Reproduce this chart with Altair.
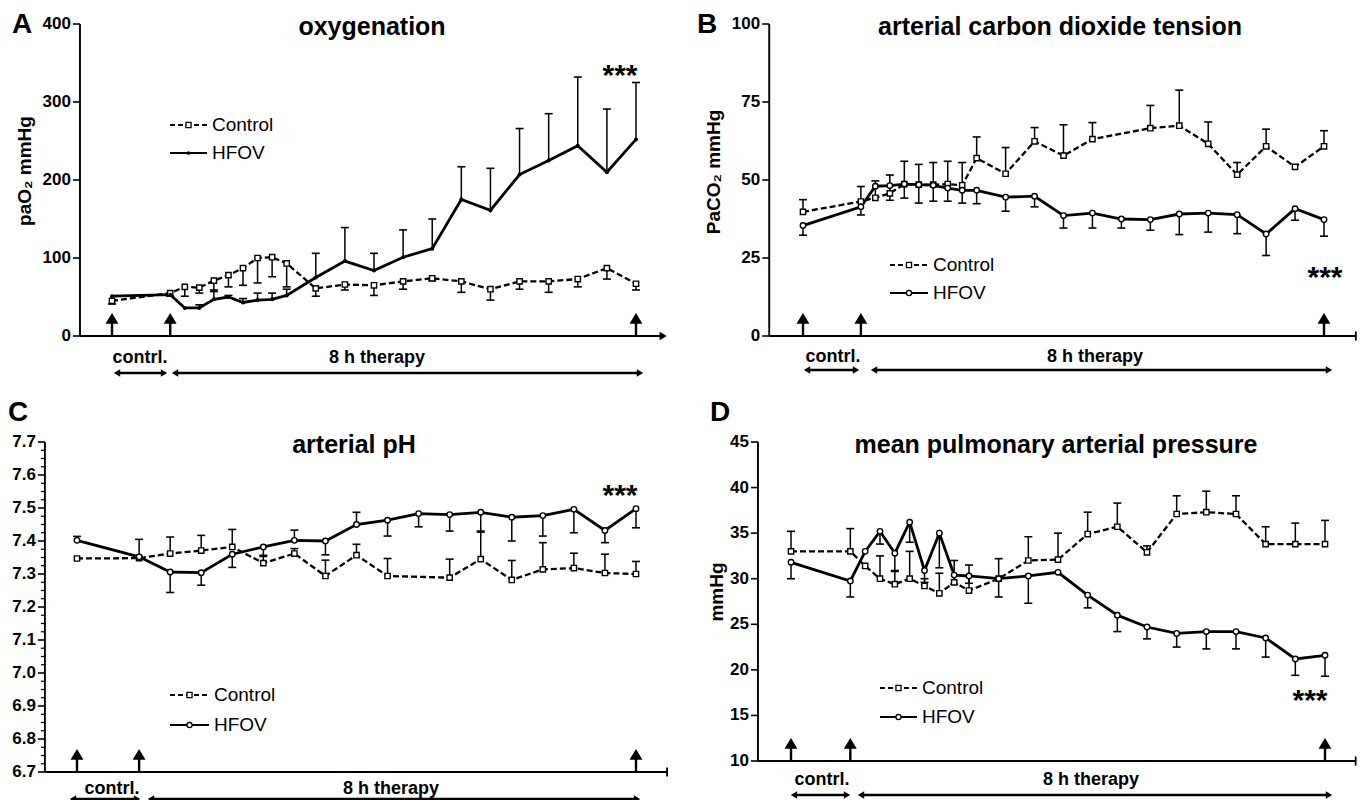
import altair as alt
import pandas as pd

FONT = "Liberation Sans"

# ---------------- data ----------------
T15 = [-60, 0, 15, 30, 45, 60, 75, 90, 105, 120, 150, 180, 210, 240, 270, 300, 330, 360, 390, 420, 450, 480]
T30 = [-60, 0, 30, 60, 90, 120, 150, 180, 210, 240, 270, 300, 330, 360, 390, 420, 450, 480]
MARK_TIMES = [-60, 0, 480]

A_CTRL = [45, 55, 63, 62, 71, 78, 87, 100, 101, 93, 61, 66, 65, 70, 74, 70, 60, 70, 70, 73, 87, 67]
A_CTRL_ERR = [-4, -4, -12, -7, -14, -15, -22, -32, -25, -30, -10, -7, -13, -10, -3, -14, -14, -10, -14, -10, -14, -8]
A_HFOV = [51, 53, 36, 36, 47, 50, 43, 46, 47, 52, 75, 96, 84, 101, 112, 175, 161, 207, 225, 244, 210, 252]
A_HFOV_ERR = [0, 0, 0, 4, 12, 2, 5, 9, 8, 8, 31, 43, 22, 35, 38, 42, 54, 59, 60, 88, 81, 73]
A_TICKS = [0, 100, 200, 300, 400]

B_CTRL = [39.8, 43.1, 44.3, 45.7, 48.7, 48.5, 48.5, 48.7, 48.3, 57.0, 52.0, 62.4, 57.8, 63.1, None, 66.6, 67.4, 61.6, 51.7, 60.8, 54.2, 60.8]
B_CTRL_ERR = [3.9, 4.8, 5.4, 5.9, 7.3, 6.5, 7.1, 7.3, 7.3, 6.8, 8.4, 4.4, 9.9, 5.3, None, 7.3, 11.4, 7.0, 3.9, 5.5, 0, 5.0]
B_HFOV = [35.4, 41.4, 48.0, 48.2, 48.7, 48.5, 48.3, 47.4, 46.7, 46.7, 44.5, 44.8, 38.6, 39.4, 37.5, 37.3, 39.1, 39.4, 38.9, 32.7, 40.8, 37.3]
B_HFOV_ERR = [-3.1, -2.6, 0, -4.7, -4.5, -5.9, -5.1, -4.2, -4.1, -4.3, -4.5, -3.4, -4.0, -4.8, -2.9, -3.4, -6.6, -6.1, -6.1, -6.9, -3.7, -5.3]
B_TICKS = [0, 25, 50, 75, 100]

C_CTRL = [7.347, 7.348, 7.362, 7.371, 7.382, 7.333, 7.362, 7.294, 7.357, 7.294, None, 7.289, 7.345, 7.282, 7.314, 7.318, 7.303, 7.300]
C_CTRL_ERR = [0, 0, 0.05, 0.046, 0.053, 0.02, 0.015, 0.048, 0.033, 0.053, None, 0.056, 0.085, 0.059, 0.081, 0.045, 0.057, 0.038]
C_HFOV = [7.402, 7.352, 7.306, 7.304, 7.36, 7.382, 7.402, 7.40, 7.45, 7.463, 7.483, 7.48, 7.487, 7.472, 7.477, 7.496, 7.432, 7.498]
C_HFOV_ERR = [0.012, 0.053, -0.062, -0.038, -0.04, -0.025, 0.031, -0.042, 0.037, -0.048, -0.04, -0.05, -0.06, -0.072, -0.062, -0.071, -0.037, -0.058]
C_TICKS = [6.7, 6.8, 6.9, 7.0, 7.1, 7.2, 7.3, 7.4, 7.5, 7.6, 7.7]
C_MINOR = [round(6.7 + 0.025 * i, 3) for i in range(41) if i % 4 != 0]

D_CTRL = [33.0, 33.0, 31.4, 30.0, 29.4, 30.0, 29.2, 28.4, 29.6, 28.7, 30.0, 32.0, 32.1, 34.9, 35.7, 32.9, 37.1, 37.3, 37.1, 33.8, 33.8, 33.8]
D_CTRL_ERR = [2.2, 2.5, 0, 2.5, 1.4, 3.0, 0.8, 2.2, 2.4, 2.8, 2.2, 2.6, 2.9, 2.4, 2.6, 0.7, 2.0, 2.3, 2.0, 1.9, 2.3, 2.6]
D_HFOV = [31.8, 29.75, 33.0, 35.2, 32.8, 36.2, 30.9, 35.0, 30.4, 30.3, 30.0, 30.3, 30.7, 28.2, 26.0, 24.7, 24.0, 24.2, 24.2, 23.5, 21.2, 21.6]
D_HFOV_ERR = [-1.8, -1.75, 0, -1.4, -1.9, -2.2, -1.3, -3.8, -1.0, -0.8, -2.0, -3.0, 0, -1.4, -1.8, -1.3, -1.5, -1.9, -1.9, -2.1, -1.8, -2.3]
D_TICKS = [10, 15, 20, 25, 30, 35, 40, 45]

ARROW_UP = "M0,1L0,-0.3M-0.42,-0.3L0,-1L0.42,-0.3Z"


# ---------------- helpers ----------------
def label(text, x, y, size, weight="bold", align="center", angle=0, font=FONT):
    return alt.Chart(pd.DataFrame({"s": [text]})).mark_text(
        font=font, fontSize=size, fontWeight=weight, align=align,
        baseline="middle", angle=angle, color="black"
    ).encode(text="s:N", x=alt.value(x), y=alt.value(y))


def legend_item(x0, x1, y, text, dashed, marker):
    one = pd.DataFrame({"s": [text]})
    kw = dict(color="black", strokeWidth=2.2)
    if dashed:
        kw["strokeDash"] = [5, 3]
    seg = alt.Chart(one).mark_rule(**kw).encode(
        x=alt.value(x0), x2=alt.value(x1), y=alt.value(y))
    if marker == "square":
        pt = alt.Chart(one).mark_point(shape="square", size=26, filled=True, fill="white",
                                       stroke="black", strokeWidth=1.3, opacity=1)
    elif marker == "dot":
        pt = alt.Chart(one).mark_point(shape="circle", size=14, filled=True, color="black", opacity=1)
    else:
        pt = alt.Chart(one).mark_point(shape="circle", size=26, filled=True, fill="white",
                                       stroke="black", strokeWidth=1.3, opacity=1)
    pt = pt.encode(x=alt.value((x0 + x1) / 2), y=alt.value(y))
    txt = label(text, x1 + 5, y, 19, weight="normal", align="left")
    return [seg, pt, txt]


def dbl_arrow(x0, x1, y):
    one = pd.DataFrame({"s": [0]})
    line = alt.Chart(one).mark_rule(color="black", strokeWidth=2.4).encode(
        x=alt.value(x0 + 3), x2=alt.value(x1 - 3), y=alt.value(y))
    left = alt.Chart(one).mark_point(shape="triangle-left", size=55, filled=True,
                                     color="black", opacity=1).encode(
        x=alt.value(x0 + 3), y=alt.value(y))
    right = alt.Chart(one).mark_point(shape="triangle-right", size=55, filled=True,
                                      color="black", opacity=1).encode(
        x=alt.value(x1 - 3), y=alt.value(y))
    return [line, left, right]


def panel(cfg):
    xs = alt.Scale(domain=[-60, 480], range=cfg["xrng"], nice=False, zero=False)
    ys = alt.Scale(domain=cfg["ydom"], range=cfg["yrng"], nice=False, zero=False)

    def X(f):
        return alt.X(f, type="quantitative", scale=xs, axis=None)

    def Y(f):
        return alt.Y(f, type="quantitative", scale=ys, axis=None)

    t = cfg["t"]
    ctrl = pd.DataFrame({"t": t, "v": cfg["ctrl"], "e": cfg["ctrl_err"]}).dropna()
    hfov = pd.DataFrame({"t": t, "v": cfg["hfov"], "e": cfg["hfov_err"]}).dropna()
    ctrl["v2"] = ctrl["v"] + ctrl["e"]
    hfov["v2"] = hfov["v"] + hfov["e"]
    ctrl_e = ctrl[ctrl["e"] != 0]
    hfov_e = hfov[hfov["e"] != 0]

    ymin, ymax = cfg["ticks"][0], cfg["ticks"][-1]
    layers = []

    # axes
    layers.append(alt.Chart(pd.DataFrame({"x": [cfg["axis_t"]], "y0": [ymin], "y1": [ymax]}))
                  .mark_rule(color="black", strokeWidth=1.9)
                  .encode(x=X("x"), y=Y("y0"), y2="y1"))
    layers.append(alt.Chart(pd.DataFrame({"x0": [cfg["axis_t"]], "x1": [cfg["end_t"]], "y": [ymin]}))
                  .mark_rule(color="black", strokeWidth=2.2)
                  .encode(x=X("x0"), x2="x1", y=Y("y")))
    endf = pd.DataFrame({"x": [cfg["end_t"]], "y": [ymin]})
    if cfg["end"] == "arrow":
        layers.append(alt.Chart(endf).mark_point(shape="triangle-right", size=70, filled=True,
                                                 color="black", opacity=1)
                      .encode(x=X("x"), y=Y("y")))
    else:
        layers.append(alt.Chart(endf).mark_tick(orient="vertical", size=9, thickness=1.8,
                                                color="black", opacity=1)
                      .encode(x=X("x"), y=Y("y")))
    tickdf = pd.DataFrame({"x": [cfg["axis_t"]] * len(cfg["ticks"]), "y": cfg["ticks"],
                           "lab": [cfg["fmt"](v) for v in cfg["ticks"]]})
    layers.append(alt.Chart(tickdf).mark_tick(orient="horizontal", size=7, thickness=1.6,
                                              xOffset=-3.5, color="black", opacity=1)
                  .encode(x=X("x"), y=Y("y")))
    layers.append(alt.Chart(tickdf).mark_text(font=FONT, fontSize=17, fontWeight="bold",
                                              align="right", baseline="middle", dx=-9,
                                              color="black")
                  .encode(x=X("x"), y=Y("y"), text="lab:N"))
    if cfg.get("minor"):
        mdf = pd.DataFrame({"x": [cfg["axis_t"]] * len(cfg["minor"]), "y": cfg["minor"]})
        layers.append(alt.Chart(mdf).mark_tick(orient="horizontal", size=4, thickness=1.2,
                                               xOffset=-2, color="black", opacity=1)
                      .encode(x=X("x"), y=Y("y")))

    # upward arrows at time marks
    layers.append(alt.Chart(pd.DataFrame({"t": MARK_TIMES, "y": [ymin] * 3}))
                  .mark_point(shape=ARROW_UP, size=420, filled=True, fill="black",
                              stroke="black", strokeWidth=2.4, yOffset=-10.5, opacity=1)
                  .encode(x=X("t"), y=Y("y")))

    # error bars
    for df in (ctrl_e, hfov_e):
        layers.append(alt.Chart(df).mark_rule(color="black", strokeWidth=1.5)
                      .encode(x=X("t"), y=Y("v"), y2="v2"))
        layers.append(alt.Chart(df).mark_tick(orient="horizontal", size=8, thickness=1.6,
                                              color="black", opacity=1)
                      .encode(x=X("t"), y=Y("v2")))

    # lines
    layers.append(alt.Chart(ctrl).mark_line(color="black", strokeWidth=2.3, strokeDash=[6, 3])
                  .encode(x=X("t"), y=Y("v")))
    layers.append(alt.Chart(hfov).mark_line(color="black", strokeWidth=2.8)
                  .encode(x=X("t"), y=Y("v")))

    # points
    layers.append(alt.Chart(ctrl).mark_point(shape="square", size=28, filled=True, fill="white",
                                             stroke="black", strokeWidth=1.4, opacity=1)
                  .encode(x=X("t"), y=Y("v")))
    if cfg["hmark"] == "dot":
        layers.append(alt.Chart(hfov).mark_point(shape="circle", size=16, filled=True,
                                                 color="black", opacity=1)
                      .encode(x=X("t"), y=Y("v")))
    else:
        layers.append(alt.Chart(hfov).mark_point(shape="circle", size=30, filled=True, fill="white",
                                                 stroke="black", strokeWidth=1.4, opacity=1)
                      .encode(x=X("t"), y=Y("v")))

    # annotations
    a = cfg["ann"]
    layers.append(label(cfg["letter"], a["letter"][0], a["letter"][1], 28, align="left"))
    layers.append(label(cfg["title"], a["title"][0], a["title"][1], 25))
    if cfg.get("ytitle"):
        layers.append(label(cfg["ytitle"], a["ytitle"][0], a["ytitle"][1], 19, angle=270))
    layers.append(label("***", a["stars"][0], a["stars"][1] + 6, 30))
    layers.append(label("contrl.", a["contrl"][0], a["contrl"][1], 18))
    layers.append(label("8 h  therapy", a["therapy"][0], a["therapy"][1], 18))
    lx0, lx1, ly1, ly2 = a["legend"]
    layers += legend_item(lx0, lx1, ly1, "Control", True, "square")
    layers += legend_item(lx0, lx1, ly2, "HFOV", False, cfg["hmark"])
    dy, l0, l1, r0, r1 = a["dbl"]
    layers += dbl_arrow(l0, l1, dy)
    layers += dbl_arrow(r0, r1, dy)
    return alt.layer(*layers)


def f0(v):
    return f"{v:g}"


def f1(v):
    return f"{v:.1f}"


cfgA = dict(t=T15, ctrl=A_CTRL, ctrl_err=A_CTRL_ERR, hfov=A_HFOV, hfov_err=A_HFOV_ERR,
            xrng=[104, 628], ydom=[0, 400], yrng=[328, 16], axis_t=-93, end_t=508,
            ticks=A_TICKS, fmt=f0, end="arrow", hmark="dot",
            letter="A", title="oxygenation", ytitle="paO₂  mmHg",
            ann=dict(letter=(4, 17), title=(364, 19), ytitle=(17, 163), stars=(612, 62),
                     contrl=(132, 350), therapy=(369, 350), legend=(162, 199, 117, 145),
                     dbl=(365, 106, 159, 164, 635)))
cfgB = dict(t=T15, ctrl=B_CTRL, ctrl_err=B_CTRL_ERR, hfov=B_HFOV, hfov_err=B_HFOV_ERR,
            xrng=[795, 1316], ydom=[0, 100], yrng=[328, 16], axis_t=-95, end_t=513,
            ticks=B_TICKS, fmt=f0, end="tick", hmark="circle",
            letter="B", title="arterial carbon dioxide tension", ytitle="PaCO₂ mmHg",
            ann=dict(letter=(689, 17), title=(1052, 19), ytitle=(706, 164), stars=(1317, 264),
                     contrl=(825, 349), therapy=(1087, 349), legend=(882, 920, 257, 285),
                     dbl=(362, 796, 851, 863, 1324)))
cfgC = dict(t=T30, ctrl=C_CTRL, ctrl_err=C_CTRL_ERR, hfov=C_HFOV, hfov_err=C_HFOV_ERR,
            xrng=[69, 628], ydom=[6.7, 7.7], yrng=[764, 434], axis_t=-91, end_t=510,
            ticks=C_TICKS, fmt=f1, minor=C_MINOR, end="tick", hmark="circle",
            letter="C", title="arterial pH", ytitle=None,
            ann=dict(letter=(0, 405), title=(346, 437), stars=(612, 482),
                     contrl=(104, 781), therapy=(383, 781), legend=(162, 201, 687, 717),
                     dbl=(791, 62, 132, 140, 632)))
cfgD = dict(t=T15, ctrl=D_CTRL, ctrl_err=D_CTRL_ERR, hfov=D_HFOV, hfov_err=D_HFOV_ERR,
            xrng=[783, 1317], ydom=[10, 45], yrng=[753, 434], axis_t=-93.4, end_t=511,
            ticks=D_TICKS, fmt=f0, end="tick", hmark="circle",
            letter="D", title="mean pulmonary arterial pressure", ytitle="mmHg",
            ann=dict(letter=(702, 405), title=(1048, 437), ytitle=(709, 584), stars=(1302, 687),
                     contrl=(814, 772), therapy=(1083, 772), legend=(872, 909, 680, 709),
                     dbl=(787, 783, 842, 850, 1324)))

chart = alt.layer(panel(cfgA), panel(cfgB), panel(cfgC), panel(cfgD)).resolve_scale(
    x="independent", y="independent"
).properties(
    width=1350, height=792, autosize=alt.AutoSizeParams(type="none"), padding=0,
    background="white"
).configure_view(stroke=None)

chart.save("out.html", embed_options={"renderer": "svg", "actions": False})
